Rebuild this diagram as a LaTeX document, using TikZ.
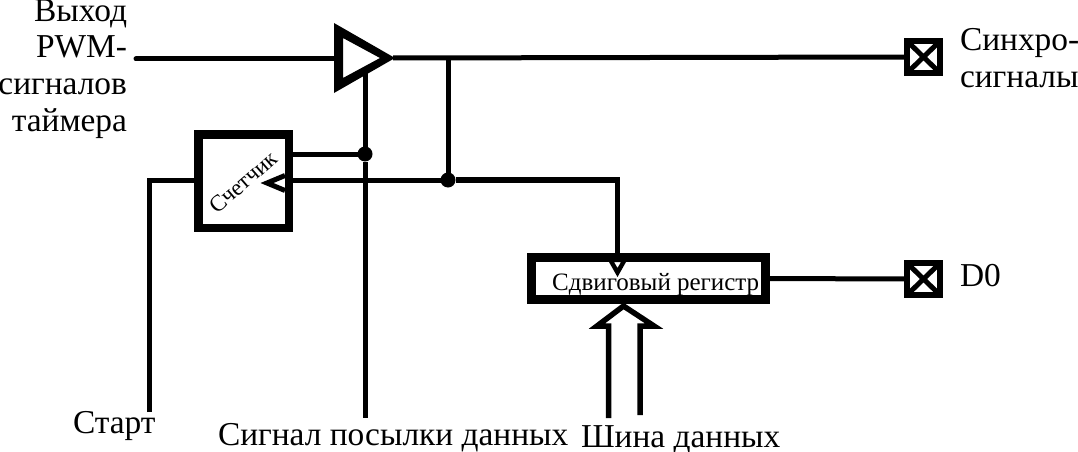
\documentclass[tikz,border=0pt]{standalone}
\usepackage{fontspec}
\setmainfont{Liberation Serif}
\tikzset{
  wire/.style={line width=5pt,line cap=butt,line join=miter},
  thickbox/.style={draw,line width=8.5pt,inner sep=0pt,outer sep=0pt,align=center},
  terminal/.style={draw,line width=6.5pt,inner sep=0pt,outer sep=0pt,minimum width=33pt,minimum height=32pt,
    path picture={\draw[line width=5pt] (path picture bounding box.south west)--(path picture bounding box.north east)
      (path picture bounding box.north west)--(path picture bounding box.south east);}},
  junction/.style={circle,fill=black,inner sep=0pt,outer sep=0pt,minimum size=15pt},
  lbl/.style={inner sep=0pt,outer sep=0pt,font=\fontsize{33.4}{33.4}\selectfont,anchor=base west},
  lblr/.style={lbl,anchor=base east},
}
\begin{document}
\begin{tikzpicture}[x=1pt,y=-1pt]
\useasboundingbox (0,0) rectangle (1078,452);
% boxes
\node[thickbox,minimum width=90.5pt,minimum height=93.5pt] (cnt) at (243.5,181) {};
\node[thickbox,minimum width=234pt,minimum height=42pt] (reg) at (648.5,278.5) {};
\node[terminal] (t1) at (923.5,57) {};
\node[terminal] (t2) at (923.5,279) {};
% buffer
\fill[even odd rule] (334,23)--(395,58)--(334,93)--cycle (343,38)--(380,58)--(343,78)--cycle;
\coordinate (bufin) at (336,59);
\coordinate (bufout) at (393,58);
\coordinate (bufen) at (365,72);
\coordinate (inS) at (136,59);
% junctions
\node[junction] (j1) at (365,154) {};
\node[junction] (j2) at (448,180) {};
\coordinate (j0) at (448,58);
% wires
\draw[wire,line cap=round] (inS)--(bufin);
\draw[wire] (bufout)--(t1.west);
\draw[wire] (j0)--(j2);
\draw[wire] (bufen)--(j1);
\coordinate (sendS) at (365,418);
\draw[wire] (j1)--(sendS);
\draw[wire] (j1)--(cnt.east|-j1);
\coordinate (clkT) at (289,180);
\draw[wire] (clkT)--(j2);
\coordinate (cor) at (617.5,180);
\coordinate (regclk) at (617.5,258);
\draw[wire,line width=5.5pt] (j2)--(cor)--(regclk);
\draw[wire] (reg.east)--(t2.west);
\coordinate (startS) at (149,412);
\coordinate (startC) at (149,180);
\draw[wire] (startS)--(startC)--(cnt.west|-startC);
% clock chevrons
\draw[wire,line width=5pt] (285,175.5)--(267,183)--(285,190.5);
\fill[even odd rule] (609,262)--(626,262)--(617.5,277)--cycle (614,262)--(621,262)--(617.5,268)--cycle;
% bus arrow
\coordinate (busL) at (608.5,418);
\coordinate (busR) at (640,415);
\coordinate (busTip) at (623.5,306);
\draw[line width=5.5pt,line join=miter,miter limit=4] (busL)--(608.5,326)--(597,326)--(busTip)--(654,326)--(640,326)--(busR);
% text
\node[font=\fontsize{23}{23}\selectfont,rotate=41,inner sep=0pt] (ctxt) at (243,182) {Счетчик};
\node[font=\fontsize{25}{25}\selectfont,inner sep=0pt,anchor=base west] (rtxt) at (552,290) {Сдвиговый регистр};
\node[lblr] (a1) at (127,22) {Выход};
\node[lblr] (a2) at (127,57) {PWM-};
\node[lblr] (a3) at (127,94) {сигналов};
\node[lblr] (a4) at (127,131) {таймера};
\node[lbl] (b1) at (960,51) {Синхро-};
\node[lbl] (b2) at (960,88) {сигналы};
\node[lbl] (b3) at (960,286) {D0};
\node[lbl] (c1) at (73,433) {Старт};
\node[lbl] (c2) at (218,445) {Сигнал посылки данных};
\node[lbl] (c3) at (581,447) {Шина данных};
\end{tikzpicture}
\end{document}
